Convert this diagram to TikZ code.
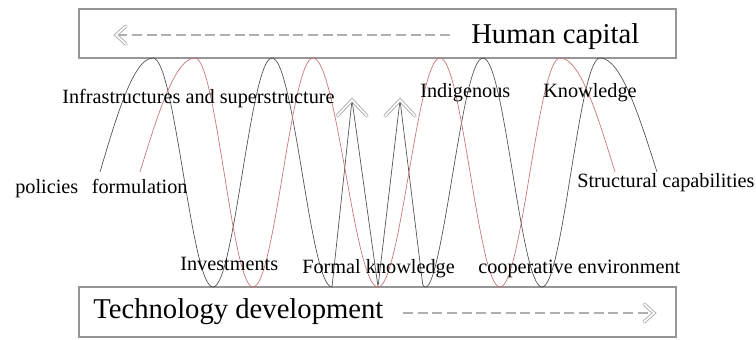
\documentclass[tikz,border=0pt]{standalone}
\usepackage{fontspec}
\setmainfont{Liberation Serif}
\newfontfamily\timesfam{Liberation Serif}
\usepackage{tikz}
\usetikzlibrary{arrows.meta, positioning}

\definecolor{framegray}{RGB}{150,150,150}
\definecolor{dashgray}{RGB}{175,175,175}
\definecolor{wavedark}{RGB}{80,80,80}
\definecolor{wavered}{RGB}{200,115,115}

\begin{document}
\begin{tikzpicture}[x=0.75pt, y=-0.75pt,
  panel/.style={draw=framegray, line width=0.8pt, inner sep=0pt},
  bigtext/.style={anchor=base west, inner sep=0pt, font=\timesfam\fontsize{21.5}{24}\selectfont},
  wavelabel/.style={anchor=base west, inner sep=0pt, font=\timesfam\fontsize{15.2}{17}\selectfont},
  flowline/.style={draw=dashgray, line width=0.8pt, dash pattern=on 7.5pt off 3.5pt},
  hollowtip/.style={draw=dashgray, double=white, double distance=1.2pt, line width=0.7pt, line cap=round, line join=miter},
  darkwave/.style={draw=wavedark, line width=0.5pt},
  redwave/.style={draw=wavered, line width=0.5pt}]
\useasboundingbox (0,0) rectangle (756,339);

% the two boxes
\node[panel, minimum width=447.75pt, minimum height=36.75pt] (capitalbox) at (377.5,33.5) {};
\node[panel, minimum width=447.75pt, minimum height=37.5pt] (techbox) at (377.5,312) {};
\node[bigtext] (capital) at (471,43) {Human capital};
\node[bigtext] (techdev) at (93,318) {Technology development};

% flow directions inside the boxes
\coordinate (capitalS) at (450,35);
\coordinate (capitalE) at (116,35);
\coordinate (techS) at (403,313);
\coordinate (techE) at (654,313);
\draw[flowline] (capitalS) -- (capitalE);
\draw[flowline] (techS) -- (techE);
\draw[hollowtip] (capitalE) ++(10,-9) -- (capitalE) -- ++(10,9);
\draw[hollowtip] (techE) ++(-10,-9) -- (techE) -- ++(-10,9);

% spike tips
\coordinate (spikeA) at (352,100);
\coordinate (spikeB) at (400,100);

% waves
\draw[darkwave] (100,172) sin (153,58) cos (183,172) sin (213,287) cos (242.5,172) sin (272,58)
  cos (302,172) sin (332,287) [rounded corners=2pt] -- (spikeA) -- (378,287) -- (spikeB) -- (423,287)
  [sharp corners] cos (453,172) sin (483,58) cos (512.5,172) sin (542,287) cos (571,172) sin (600,58)
  cos (657,172);
\draw[redwave] (140,172) sin (195,58) cos (224,172) sin (253,287) cos (283,172) sin (313,58)
  cos (345.5,172) sin (378,287) cos (409,172) sin (440,58) cos (470,172) sin (500,287)
  cos (530,172) sin (560,58) cos (615,172);

\draw[hollowtip] (spikeA) ++(-15,16) -- (spikeA) -- ++(15,16);
\draw[hollowtip] (spikeB) ++(-15,16) -- (spikeB) -- ++(15,16);

% labels
\node[wavelabel] (infra) at (62,103) {Infrastructures and superstructure};
\node[wavelabel] (indig) at (420,97) {Indigenous};
\node[wavelabel] (knowl) at (543,97) {Knowledge};
\node[wavelabel] (policies) at (15,193) {policies};
\node[wavelabel, base right=9.75pt of policies] (formul) {formulation};
\node[wavelabel] (struct) at (577,187) {Structural capabilities};
\node[wavelabel] (invest) at (180,270) {Investments};
\node[wavelabel] (formal) at (302,273) {Formal knowledge};
\node[wavelabel] (coop) at (478,273) {cooperative environment};
\end{tikzpicture}
\end{document}
